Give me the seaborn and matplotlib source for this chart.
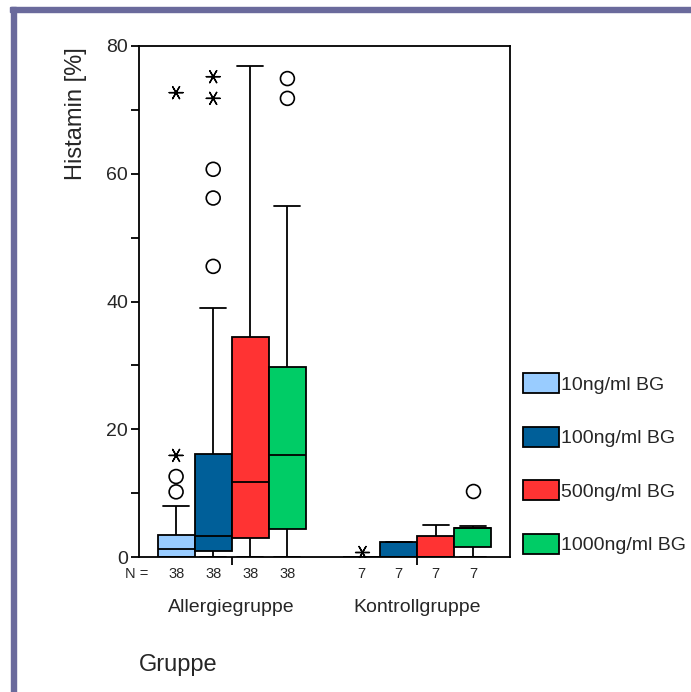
import numpy as np
import pandas as pd
import matplotlib
matplotlib.use("Agg")
import matplotlib.pyplot as plt
import matplotlib.transforms as mtrans
from matplotlib.patches import Rectangle
import seaborn as sns

# ---------------- data ----------------
groups = ["Allergiegruppe", "Kontrollgruppe"]
doses = ["10ng/ml BG", "100ng/ml BG", "500ng/ml BG", "1000ng/ml BG"]
colors = ["#99ccff", "#005f99", "#ff3333", "#00cc66"]

# order: Allergiegruppe x 4 doses, then Kontrollgruppe x 4 doses
box_group = ["Allergiegruppe"] * 4 + ["Kontrollgruppe"] * 4
box_dose = doses + doses
whisker_low = [0.0, 0.0, 0.0, 0.0, 0.0, 0.0, 0.0, 0.0]
quart1 = [0.0, 1.0, 3.0, 4.4, 0.0, 0.0, 0.0, 1.6]
median = [1.2, 3.3, 11.7, 15.9, 0.0, 0.0, 0.0, 4.5]
quart3 = [3.5, 16.1, 34.5, 29.7, 0.0, 2.4, 3.3, 4.6]
whisker_high = [8.0, 39.0, 76.9, 54.9, 0.0, 2.4, 5.0, 4.9]
n_counts = [38, 38, 38, 38, 7, 7, 7, 7]

# outliers (circles)
outlier_group = ["Allergiegruppe"] * 7 + ["Kontrollgruppe"]
outlier_dose = ["10ng/ml BG", "10ng/ml BG",
                "100ng/ml BG", "100ng/ml BG", "100ng/ml BG",
                "1000ng/ml BG", "1000ng/ml BG", "1000ng/ml BG"]
outlier_value = [10.2, 12.6, 45.5, 56.2, 60.7, 71.8, 74.9, 10.4]

# extremes (asterisks)
extreme_group = ["Allergiegruppe"] * 4 + ["Kontrollgruppe"]
extreme_dose = ["10ng/ml BG", "10ng/ml BG", "100ng/ml BG", "100ng/ml BG",
                "10ng/ml BG"]
extreme_value = [15.9, 72.7, 71.8, 75.2, 0.8]

# ---------------- tables ----------------
rows = []
for g, d, a, b, c, e, f in zip(box_group, box_dose, whisker_low, quart1,
                               median, quart3, whisker_high):
    for v in (a, b, c, e, f):
        rows.append({"Gruppe": g, "Dosis": d, "Histamin": v})
box_df = pd.DataFrame(rows)
out_df = pd.DataFrame({"Gruppe": outlier_group, "Dosis": outlier_dose,
                       "Histamin": outlier_value})
ext_df = pd.DataFrame({"Gruppe": extreme_group, "Dosis": extreme_dose,
                       "Histamin": extreme_value})

# ---------------- style ----------------
sns.set_style("ticks")
plt.rcParams["font.family"] = ["Liberation Sans", "DejaVu Sans"]
plt.rcParams["axes.linewidth"] = 1.3

W, H = 691, 692
fig = plt.figure(figsize=(W / 100, H / 100), dpi=100)
ax = fig.add_axes([139 / W, (H - 557) / H, (510 - 139) / W, (557 - 46) / H])

sns.boxplot(data=box_df, x="Gruppe", y="Histamin", hue="Dosis",
            order=groups, hue_order=doses, palette=colors, saturation=1,
            width=0.8, gap=0, whis=(0, 100), showfliers=False,
            linecolor="black", linewidth=1.3, capwidths=0.14, ax=ax)

sns.stripplot(data=out_df, x="Gruppe", y="Histamin", hue="Dosis",
              order=groups, hue_order=doses, dodge=True, jitter=False,
              palette={d: "white" for d in doses}, marker="o", size=10,
              edgecolor="black", linewidth=1.2, legend=False, ax=ax,
              zorder=5)
sns.stripplot(data=ext_df, x="Gruppe", y="Histamin", hue="Dosis",
              order=groups, hue_order=doses, dodge=True, jitter=False,
              palette={d: "black" for d in doses}, marker=(6, 2, 90),
              size=10, linewidth=1.0, legend=False, ax=ax, zorder=5)

ax.set_xlim(-0.5, 1.5)
ax.set_ylim(0, 80)
ax.set_yticks([0, 20, 40, 60, 80])
ax.set_yticks([10, 30, 50, 70], minor=True)
ax.tick_params(axis="y", which="both", direction="out", length=6, width=1.3,
               labelsize=14, pad=2, color="black")
ax.tick_params(axis="x", which="major", direction="out", length=6, width=1.3,
               labelsize=14, pad=24, color="black")
for s in ax.spines.values():
    s.set_visible(True)
    s.set_color("black")
    s.set_linewidth(1.3)

ax.set_xlabel("Gruppe", fontsize=17)
ax.xaxis.set_label_coords(0.105, -0.19)
ax.set_ylabel("Histamin [%]", fontsize=17)
ax.yaxis.set_label_coords(-0.14, 0.867)

# N labels
trans = mtrans.blended_transform_factory(ax.transData, ax.transAxes)
for i, n in enumerate(n_counts):
    gi, di = divmod(i, 4)
    ax.text(gi + (di - 1.5) * 0.2, -0.033, str(n), transform=trans,
            ha="center", va="center", fontsize=10.5)
fig.text(137 / W, (H - 574) / H, "N =", ha="center", va="center",
         fontsize=10.5)

# legend
sns.move_legend(ax, "upper left", bbox_to_anchor=(523 / W, (H - 373) / H),
                bbox_transform=fig.transFigure, frameon=False, title=None,
                fontsize=14, handlelength=1.85, handleheight=1.2,
                labelspacing=1.7, handletextpad=0.12, borderpad=0,
                borderaxespad=0)

# frame decoration
border = "#6a6a9c"
fig.patches.append(Rectangle((10 / W, (H - 12) / H), (W - 10) / W, 5 / H,
                             transform=fig.transFigure, color=border,
                             zorder=0))
fig.patches.append(Rectangle((11 / W, 0), 5 / W, (H - 7) / H,
                             transform=fig.transFigure, color=border,
                             zorder=0))

fig.savefig("out.png", dpi=100)
